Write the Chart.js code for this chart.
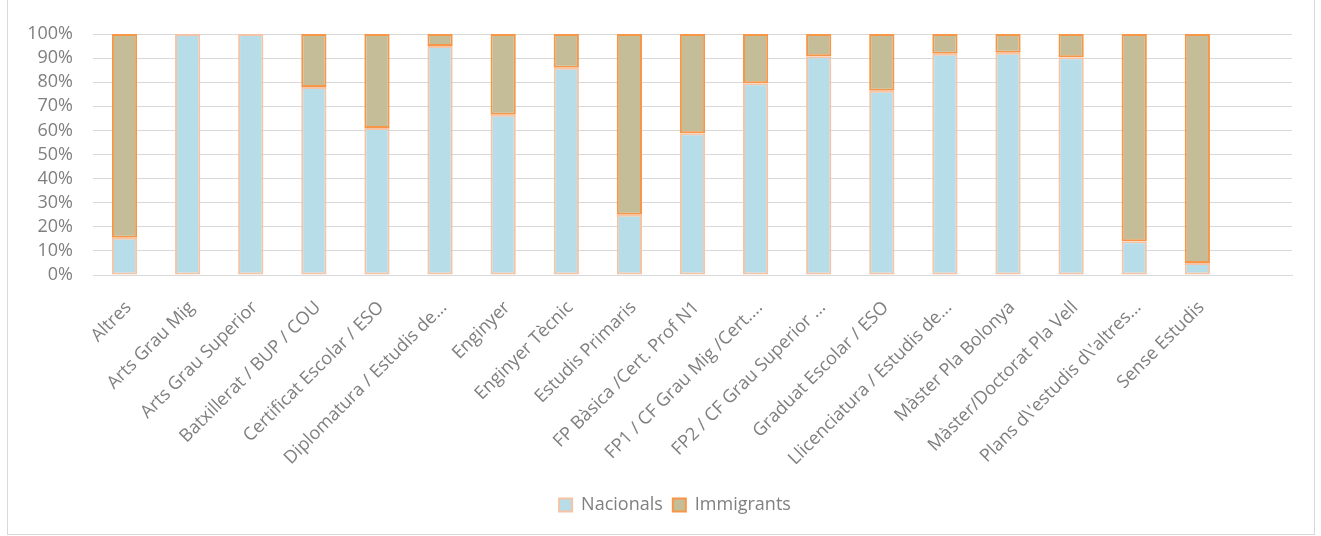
<!DOCTYPE html>
<html lang="ca">
<head>
  <meta charset="UTF-8">
  <title>Nacionals i Immigrants per nivell d'estudis</title>
  <script src="https://cdn.jsdelivr.net/npm/chart.js"></script>
  <style>
    html, body { margin: 0; padding: 0; background: #fff; }
    #marc { position: absolute; left: 7px; top: -1px; width: 1306px; height: 534px; border: 1px solid #d9d9d9; }
    #grafic { position: absolute; left: 0; top: 0; }
  </style>
</head>
<body>
  <div id="marc"></div>
  <canvas id="grafic" width="1321" height="536"></canvas>
  <script>
    const categories = [
      'Altres', 'Arts Grau Mig', 'Arts Grau Superior', 'Batxillerat / BUP / COU',
      'Certificat Escolar / ESO', 'Diplomatura / Estudis de...', 'Enginyer', 'Enginyer Tècnic',
      'Estudis Primaris', 'FP Bàsica /Cert. Prof N1', 'FP1 / CF Grau Mig /Cert....',
      'FP2 / CF Grau Superior ...', 'Graduat Escolar / ESO', 'Llicenciatura / Estudis de...',
      'Màster Pla Bolonya', 'Màster/Doctorat Pla Vell', "Plans d\\'estudis d\\'altres...",
      'Sense Estudis', ''
    ];
    // percentatges llegits del gràfic
    const nacionals  = [15.5, 100, 100, 78, 61, 95, 66.5, 86, 25, 58.8, 79.6, 90.8, 76.5, 91.8, 92.2, 90.4, 14, 5, null];
    const immigrants = [84.5, 0, 0, 22, 39, 5, 33.5, 14, 75, 41.2, 20.4, 9.2, 23.5, 8.2, 7.8, 9.6, 86, 95, null];
    const yTicks = [0, 10, 20, 30, 40, 50, 60, 70, 80, 90, 100];

    const gris = '#7f7f7f';

    // la llegenda de l'original no està centrada al canvas, sinó una mica a la dreta
    const moureLlegenda = {
      id: 'moureLlegenda',
      beforeDraw(chart) {
        chart.legend.left = 58;
        chart.legend.right = 1292;
      }
    };

    new Chart(document.getElementById('grafic'), {
      type: 'bar',
      data: {
        labels: categories,
        datasets: [
          { label: 'Nacionals', data: nacionals, backgroundColor: '#b7dde8', borderColor: '#f5c3a5', borderWidth: 2, borderSkipped: false },
          { label: 'Immigrants', data: immigrants, backgroundColor: '#c4bd97', borderColor: '#f79646', borderWidth: 2, borderSkipped: false }
        ]
      },
      plugins: [moureLlegenda],
      options: {
        responsive: false,
        animation: false,
        layout: { padding: { top: 34, right: 29, bottom: 12, left: 0 } },
        datasets: { bar: { categoryPercentage: 1, barPercentage: 0.4 } },
        scales: {
          x: {
            stacked: true,
            grid: { display: false },
            border: { color: '#d9d9d9' },
            ticks: {
              color: gris, autoSkip: false, maxRotation: 45, minRotation: 45,
              padding: 14, labelOffset: 4,
              font: { family: 'Open Sans', size: 18 }
            },
            afterFit: s => { s.height = 211; }
          },
          y: {
            stacked: true,
            min: 0, max: 100,
            afterBuildTicks: s => { s.ticks = yTicks.map(v => ({ value: v })); },
            grid: { color: '#d9d9d9', drawTicks: false },
            border: { display: false },
            ticks: {
              color: gris, padding: 20, autoSkip: false,
              font: { family: 'Open Sans', size: 18 },
              callback: v => v + '%'
            },
            afterFit: s => { s.width = 93; }
          }
        },
        plugins: {
          legend: {
            position: 'bottom',
            labels: {
              color: gris, boxWidth: 13, boxHeight: 13, padding: 10,
              font: { family: 'Open Sans', size: 18 }
            }
          },
          tooltip: { enabled: false }
        }
      }
    });
  </script>
</body>
</html>
